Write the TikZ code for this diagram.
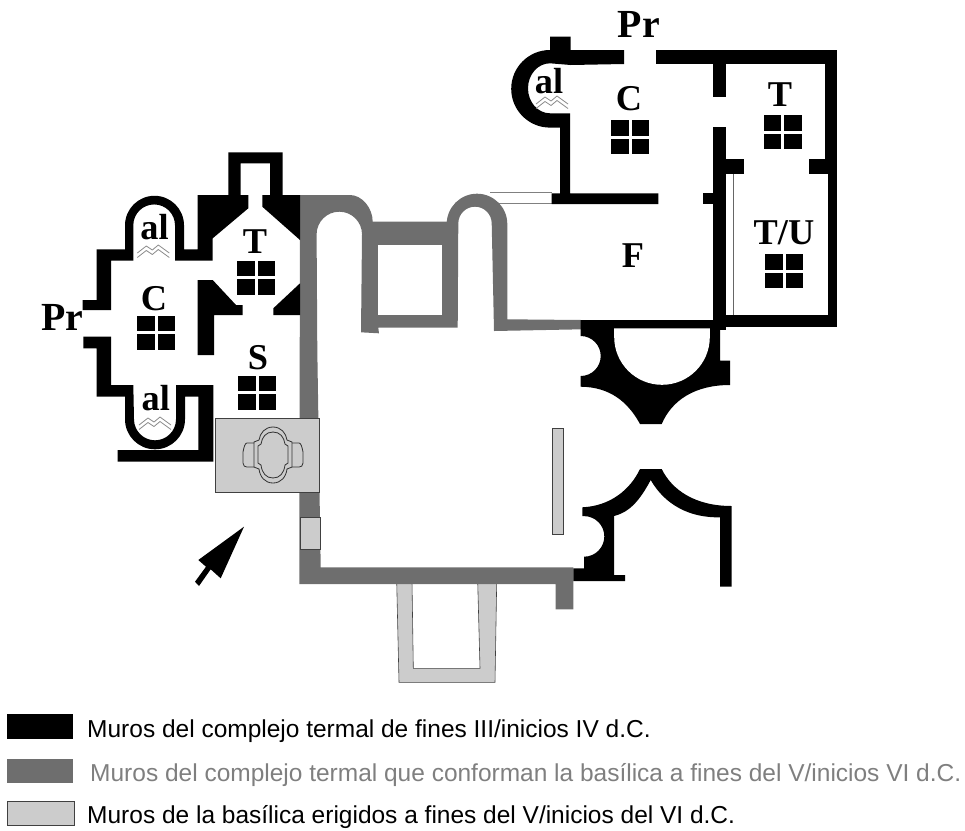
\documentclass[tikz,border=0pt]{standalone}
\usepackage{fontspec}
\setmainfont{Liberation Serif}
\setsansfont{Liberation Sans}
\definecolor{wallgray}{HTML}{6E6E6E}
\definecolor{walllight}{HTML}{CCCCCC}
\definecolor{textgray}{HTML}{7F7F7F}
\tikzset{
	roomlabel/.style={inner sep=0, font=\fontsize{31}{31}\selectfont\bfseries},
	legendlabel/.style={inner sep=0, anchor=base west, font=\fontsize{20.9}{20.9}\selectfont\sffamily},
	lightwall/.style={fill=walllight, draw=black!75, line width=0.5pt},
	planline/.style={draw=black!80, line width=0.7pt},
	waveline/.style={draw=black!45, line width=0.7pt, line join=bevel}
}
\def\fourpanes(#1,#2){\begin{scope}[shift={(#1,#2)}]
	\foreach \px/\py in {-19/-17, 1.5/-17, -19/1.5, 1.5/1.5}
		\fill (\px,\py) rectangle ++(17.5,15.5);
\end{scope}}
\def\alwaves(#1,#2){\begin{scope}[shift={(#1,#2)}]
	\foreach \py in {0, 4.5}
		\draw[waveline] (-16,\py+3) -- (-7,\py-4) -- (-1,\py) -- (5,\py-5) -- (16,\py+3);
\end{scope}}

\begin{document}
\begin{tikzpicture}[x=0.03cm, y=-0.03cm]
	\useasboundingbox (0, 0) rectangle (965, 830);

	% light walls below the gray ones
	\draw[lightwall] (396.7, 582) -- (399, 682.3) -- (495, 682.3) -- (496.7, 582) -- (477.7, 582) -- (480, 668.3) -- (413.3, 668.3) -- (412, 582) -- cycle;
	\draw[draw=black!50, line width=0.5pt] (490, 192.7) -- (551.7, 192.7);
	\draw[draw=black!50, line width=0.5pt] (490, 203.5) -- (551.7, 203.5);

	% gray walls
	\fill[wallgray] (299.3, 584) -- (300, 195) -- (350, 195) .. controls (362, 195) and (372.7, 208) .. (372.7, 221.7)
		-- (446.7, 221.7) -- (446.7, 224) arc (180:360:30.3) -- (507.3, 319.3) -- (581.7, 320) -- (581.7, 329.3) -- (494, 331)
		-- (491.7, 223.4) arc (360:180:16.7) -- (457.7, 327.7) -- (378.3, 327.7) -- (379, 333.3) -- (361, 332.3)
		-- (362, 234.4) arc (360:180:22.7) -- (317.3, 350) -- (320.7, 567.3) -- (573.3, 567.3) -- (573.3, 609.3)
		-- (555.7, 609.3) -- (555.7, 584) -- cycle;
	\fill[white] (378.3, 245) rectangle (442.3, 315);

	% black walls, left block
	\fill (82.7, 300) -- (96.7, 300) -- (96.7, 249.3) -- (125, 249.3) -- (125, 225.3) arc (180:360:29.5) -- (184, 249.3)
		-- (197.7, 249.3) -- (197.7, 195) -- (228.3, 195) -- (228.3, 152.3) -- (282.7, 152.3) -- (282.7, 195) -- (300, 195)
		-- (300, 240) -- (262.3, 206.7) -- (262.3, 195) -- (270, 195) -- (270, 163.3) -- (240.7, 163.3) -- (240.7, 195)
		-- (248.3, 195) -- (248.3, 208.3) -- (212.7, 238.3) -- (212.7, 260.7) -- (175, 260.7) -- (175, 225.3) arc (360:180:20.85)
		-- (133.3, 260.7) -- (111, 260.7) -- (111, 310) -- (82.7, 310) -- cycle;
	\fill (197.7, 280) -- (212.7, 280) -- (236, 305) -- (242.7, 305) -- (242.7, 315) -- (214, 315) -- (214, 355) -- (197.7, 355) -- cycle;
	\fill (300, 283.3) -- (300, 315) -- (273.3, 315) -- (273.3, 308.3) -- cycle;
	\fill (83.3, 336.7) -- (111, 336.7) -- (111, 385) -- (133.3, 385) -- (134, 419.3) arc (180:0:21) -- (176, 385) -- (213.3, 385)
		-- (213.3, 461.7) -- (117.7, 461.7) -- (117.7, 450) -- (198.3, 450) -- (198.3, 396.7) -- (185, 396.7) -- (185, 419.3)
		arc (0:180:30) -- (125, 396.7) -- (96.7, 396.7) -- (96.7, 348.3) -- (83.3, 348.3) -- cycle;

	% black walls, right block
	\fill (550, 36.7) -- (570.7, 36.7) -- (570.7, 50) -- (624, 50) -- (624, 64) -- (570.7, 65) -- (550, 63.3) arc (270:90:22 and 25)
		-- (570, 113.3) -- (570, 193.3) -- (658.3, 193.3) -- (658.3, 204) -- (551.7, 204) -- (551.7, 193.3) -- (560, 193.3)
		-- (560, 127.7) -- (550, 127.6) arc (90:270:38.8) -- cycle;
	\fill (655.7, 50) rectangle (836.7, 64.3);
	\fill (825, 50) rectangle (836.7, 174);
	\fill (828, 170) rectangle (836.7, 326.7);
	\fill (713.3, 64) rectangle (725.7, 97.3);
	\fill (713.3, 126.7) rectangle (725.7, 330);
	\fill (725.7, 159.3) rectangle (744.3, 174);
	\fill (809.3, 159.3) rectangle (828, 174);
	\fill (702.7, 192.7) rectangle (714, 204);
	\fill (725, 315) rectangle (836.7, 326.7);
	\draw[draw=black!60, line width=0.7pt] (733.5, 174) -- (733.5, 315);

	% black piers around the exedra
	\fill (580.7, 320) -- (720, 320) -- (720, 360.7) -- (730, 360.7) -- (730, 385) .. controls (695, 385) and (672, 400) .. (661.7, 424)
		-- (640, 424) .. controls (628, 402) and (610, 387) .. (580.7, 386.7) -- (580.7, 376) arc (90:-90:20) -- cycle;
	\fill[white] (614.2, 328.3) -- (614.2, 337) arc (180:0:47.8) -- (709.8, 328.3) -- cycle;
	\fill (582.3, 507.3) .. controls (610, 506) and (630, 490) .. (640, 469) -- (661.7, 469) .. controls (672, 490) and (695, 506) .. (731.7, 506)
		-- (731.7, 586.7) -- (720, 586.7) -- (720, 517.3) .. controls (690, 518) and (665, 505) .. (650.7, 480)
		.. controls (640, 500) and (630, 512) .. (614, 516) -- (614, 575) -- (625, 575) -- (625, 581) -- (573.3, 581) -- (573.3, 568.3)
		-- (584, 568.3) -- (584, 556.7) arc (90:-90:20.3) -- (582.3, 516) -- cycle;

	% light pieces over the walls
	\draw[lightwall] (215, 418.3) rectangle (319.3, 492.7);
	\draw[lightwall] (300.7, 517.7) rectangle (320.3, 549.3);
	\draw[lightwall] (552.3, 428.7) rectangle (563.3, 534);
	\begin{scope}[shift={(273, 455)}]
		\foreach \sx in {1, -1} {
			\begin{scope}[xscale=\sx]
				\draw[planline] (0, -28) .. controls (8, -28) and (13, -22) .. (14, -15) -- (19, -13) -- (19, 12) -- (14, 14) .. controls (13, 22) and (8, 28) .. (0, 28);
				\draw[planline] (0, -23) .. controls (7, -23) and (11, -18) .. (12, -11) -- (15, -9) -- (15, 8) -- (12, 10) .. controls (11, 18) and (7, 23) .. (0, 23);
				\draw[planline] (19, -12) -- (26, -12) .. controls (28, -12) and (29, -8) .. (30, -3) -- (30, 8) .. controls (30, 11) and (28, 12) .. (26, 12) -- (19, 12);
			\end{scope}
		}
	\end{scope}

	% entrance arrow
	\fill (244, 526.7) -- (220.7, 578.3) -- (210.7, 569.3) -- (199, 586) -- (195, 581.7) -- (206, 566.7) -- (198.3, 560) -- cycle;

	% rooms, left block
	\node[roomlabel, font=\fontsize{34}{34}\selectfont\bfseries] (prleft) at (62.5, 317) {Pr};
	\node[roomlabel] (altop) at (154.5, 227) {al};
	\alwaves(153.3, 250)
	\node[roomlabel] (cleft) at (154, 299) {C};
	\fourpanes(156, 332.5)
	\node[roomlabel] (tleft) at (255, 242) {T};
	\fourpanes(256, 277.5)
	\node[roomlabel] (albottom) at (155.8, 398) {al};
	\alwaves(155, 422)
	\node[roomlabel] (sleft) at (258, 358) {S};
	\fourpanes(257.3, 392.7)

	% rooms, right block
	\node[roomlabel, font=\fontsize{34}{34}\selectfont\bfseries] (prright) at (638.7, 24) {Pr};
	\node[roomlabel] (alright) at (549, 81) {al};
	\alwaves(552, 101)
	\node[roomlabel] (cright) at (629, 99) {C};
	\fourpanes(630, 137)
	\node[roomlabel] (tright) at (780, 95) {T};
	\fourpanes(782.7, 132)
	\node[roomlabel] (turight) at (784, 233) {T/U};
	\fourpanes(784, 271)
	\node[roomlabel] (fright) at (633, 256) {F};

	% legend
	\fill (6.7, 714) rectangle (73.3, 739);
	\node[legendlabel] (legendblack) at (87, 737.5) {Muros del complejo termal de fines III/inicios IV d.C.};
	\fill[wallgray] (6.7, 759) rectangle (73.3, 782.7);
	\node[legendlabel, text=textgray] (legendgray) at (90, 781) {Muros del complejo termal que conforman la basílica a fines del V/inicios VI d.C.};
	\draw[lightwall] (7.3, 801.7) rectangle (74, 825);
	\node[legendlabel] (legendlight) at (87, 823.5) {Muros de la basílica erigidos a fines del V/inicios del VI d.C.};
\end{tikzpicture}
\end{document}
